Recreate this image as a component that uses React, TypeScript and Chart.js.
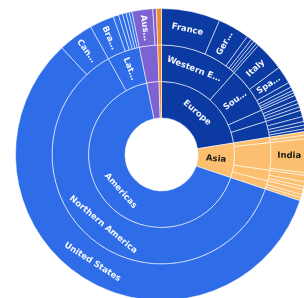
import React, { useEffect, useRef } from "react";
import { Chart, registerables } from "chart.js";

Chart.register(...registerables);

// Level 1: regions
const regions = ["Europe", "Asia", "Americas", "Oceania", "Africa"];

// Level 2: subregions (parent = index into regions)
const subregions = [
  "Western Europe", "Southern Europe", "Northern Europe", "Eastern Europe",
  "Western Asia", "Southern Asia", "Eastern Asia", "South-Eastern Asia",
  "Northern America", "Latin America",
  "Australia and New Zealand",
  "Sub-Saharan Africa",
];
const subregionParent = [0, 0, 0, 0, 1, 1, 1, 1, 2, 2, 3, 4];

// Level 3: countries (parent = index into subregions), share in %
const countries = [
  "France", "Germany", "Netherlands", "Belgium", "Switzerland", "Austria",
  "Italy", "Spain", "Portugal", "Greece", "Croatia", "Slovenia",
  "Sweden", "Denmark", "Norway", "Finland",
  "Poland", "Czechia", "Hungary", "Romania", "Russia",
  "Israel", "Turkey",
  "India", "Pakistan",
  "Japan", "China", "South Korea",
  "Singapore", "Philippines", "Malaysia",
  "United States", "Canada",
  "Brazil", "Mexico", "Argentina", "Colombia", "Chile", "Peru",
  "Australia", "New Zealand",
  "South Africa",
];
const countryParent = [
  0, 0, 0, 0, 0, 0,
  1, 1, 1, 1, 1, 1,
  2, 2, 2, 2,
  3, 3, 3, 3, 3,
  4, 4,
  5, 5,
  6, 6, 6,
  7, 7, 7,
  8, 8,
  9, 9, 9, 9, 9, 9,
  10, 10,
  11,
];
const countryValues = [
  6.5, 3.5, 0.55, 0.35, 0.35, 0.3,
  3.3, 1.95, 0.55, 0.4, 0.3, 0.3,
  0.55, 0.4, 0.4, 0.4,
  0.7, 0.55, 0.4, 0.4, 0.3,
  0.4, 0.4,
  3.75, 0.3,
  0.7, 0.5, 0.35,
  0.55, 0.35, 0.35,
  57.85, 3.9,
  2.7, 0.6, 0.45, 0.4, 0.35, 0.3,
  2.3, 0.4,
  0.55,
];

// Labels as they are shown (shortened where the slice is small)
const shownLabels: Record<string, string> = {
  Europe: "Europe",
  Asia: "Asia",
  Americas: "Americas",
  "Western Europe": "Western E…",
  "Southern Europe": "Sou…",
  "Northern America": "Northern America",
  "Latin America": "Lat…",
  France: "France",
  Germany: "Ger…",
  Italy: "Italy",
  Spain: "Spa…",
  India: "India",
  "United States": "United States",
  Canada: "Can…",
  Brazil: "Bra…",
  Australia: "Aus…",
};

const regionColors = ["#0b3ba2", "#fbbf6f", "#2f6de8", "#7d62d2", "#f08a2c"];

const subregionValues = subregions.map((_, s) =>
  countryValues.reduce((acc, v, c) => (countryParent[c] === s ? acc + v : acc), 0)
);
const regionValues = regions.map((_, r) =>
  subregionValues.reduce((acc, v, s) => (subregionParent[s] === r ? acc + v : acc), 0)
);

const countryColors = countries.map((_, c) => regionColors[subregionParent[countryParent[c]]]);
const subregionColors = subregions.map((_, s) => regionColors[subregionParent[s]]);

function isLight(hex: string) {
  const n = parseInt(hex.slice(1), 16);
  const r = (n >> 16) & 255, g = (n >> 8) & 255, b = n & 255;
  return 0.299 * r + 0.587 * g + 0.114 * b > 170;
}

const labelPlugin = {
  id: "sunburstLabels",
  afterDatasetsDraw(chart: any) {
    const ctx = chart.ctx as CanvasRenderingContext2D;
    chart.data.datasets.forEach((ds: any, di: number) => {
      const meta = chart.getDatasetMeta(di);
      meta.data.forEach((arc: any, i: number) => {
        const name = ds.names[i];
        const text = shownLabels[name];
        if (!text) return;
        const p = arc.getProps(["x", "y", "startAngle", "endAngle", "innerRadius", "outerRadius"], true);
        const mid = (p.startAngle + p.endAngle) / 2;
        const r = (p.innerRadius + p.outerRadius) / 2;
        const thick = p.outerRadius - p.innerRadius;
        const arcLen = (p.endAngle - p.startAngle) * r;
        const px = p.x + r * Math.cos(mid);
        const py = p.y + r * Math.sin(mid);
        let rot = arcLen > 1.2 * thick ? mid + Math.PI / 2 : mid;
        if (Math.cos(rot) < 0) rot += Math.PI;
        ctx.save();
        ctx.translate(px, py);
        ctx.rotate(rot);
        ctx.font = "bold 8.5px 'DejaVu Sans'";
        ctx.textAlign = "center";
        ctx.textBaseline = "middle";
        ctx.fillStyle = isLight(ds.backgroundColor[i]) ? "#1a1a1a" : "rgba(255,255,255,0.95)";
        ctx.fillText(text, 0, 0);
        ctx.restore();
      });
    });
  },
};

export default function App() {
  const ref = useRef<HTMLCanvasElement>(null);
  useEffect(() => {
    if (!ref.current) return;
    const border = "rgba(255,255,255,0.55)";
    const chart = new Chart(ref.current, {
      type: "doughnut",
      data: {
        labels: countries,
        datasets: [
          { data: countryValues, names: countries, backgroundColor: countryColors, borderColor: border, borderWidth: 1 } as any,
          { data: subregionValues, names: subregions, backgroundColor: subregionColors, borderColor: border, borderWidth: 1 } as any,
          { data: regionValues, names: regions, backgroundColor: regionColors, borderColor: border, borderWidth: 1 } as any,
        ],
      },
      options: {
        responsive: false,
        animation: false,
        cutout: "25%",
        layout: { padding: 0 },
        events: [],
        plugins: { legend: { display: false }, tooltip: { enabled: false } },
      },
      plugins: [labelPlugin],
    });
    return () => chart.destroy();
  }, []);
  return (
    <div style={{ position: "fixed", left: 0, top: 0, width: 304, height: 298, overflow: "hidden", background: "#fff" }}>
      <div style={{ position: "absolute", left: 15, top: 8, width: 293, height: 293 }}>
        <canvas ref={ref} width={293} height={293} style={{ width: 293, height: 293 }} />
      </div>
    </div>
  );
}
